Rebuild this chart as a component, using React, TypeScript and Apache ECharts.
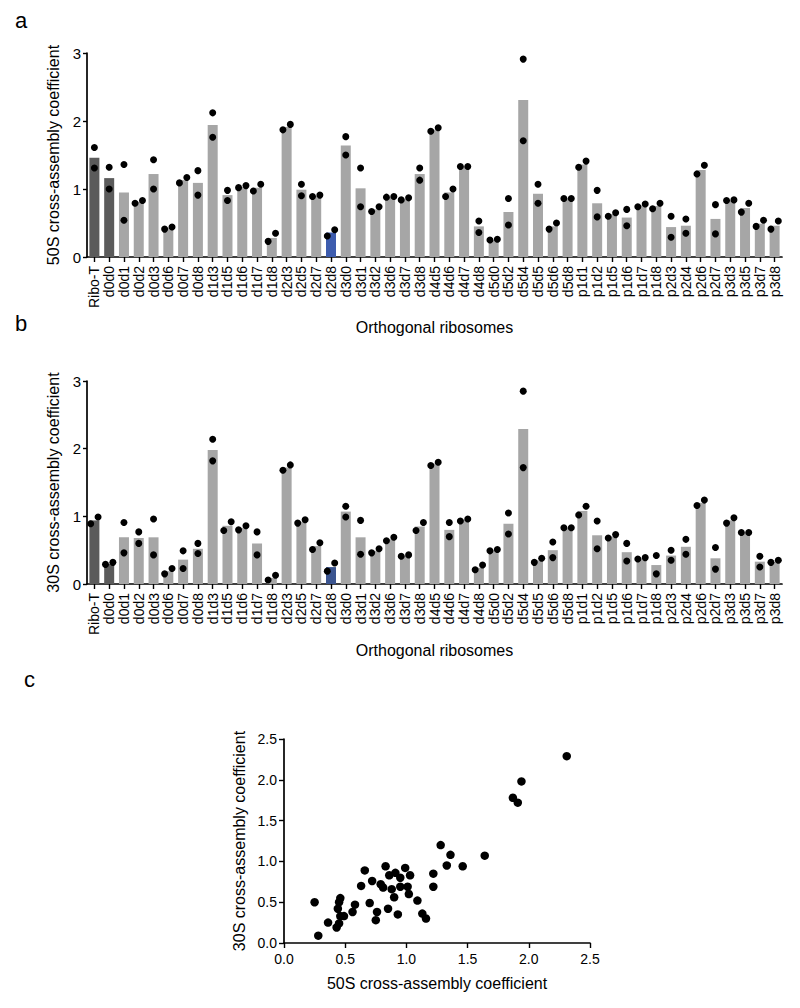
import React, { useEffect, useRef } from "react";
import * as echarts from "echarts";

const categories = [
  "Ribo-T", "d0d0", "d0d1", "d0d2", "d0d3", "d0d6", "d0d7", "d0d8", "d1d3", "d1d5", "d1d6", "d1d7", "d1d8", "d2d3",
  "d2d5", "d2d7", "d2d8", "d3d0", "d3d1", "d3d2", "d3d6", "d3d7", "d3d8", "d4d5", "d4d6", "d4d7", "d4d8", "d5d0", "d5d2", "d5d4", "d5d5",
  "d5d6", "d5d8", "p1d1", "p1d2", "p1d5", "p1d6", "p1d7", "p1d8", "p2d3", "p2d4", "p2d6", "p2d7", "p3d3", "p3d5", "p3d7", "p3d8",
];

// 50S cross-assembly coefficient (panel a)
const s50Rep1 = [
  1.61, 1.32, 1.36, 0.79, 1.43, 0.41, 1.09, 1.27, 2.12, 0.98, 1.02, 0.97, 0.23, 1.87,
  1.07, 0.89, 0.31, 1.77, 1.31, 0.67, 0.88, 0.84, 1.31, 1.85, 0.89, 1.33, 0.53, 0.25, 0.86, 2.91, 1.07,
  0.41, 0.86, 1.32, 0.98, 0.60, 0.70, 0.74, 0.71, 0.60, 0.56, 1.22, 0.77, 0.83, 0.66, 0.45, 0.41,
];
const s50Rep2 = [
  1.31, 1.00, 0.54, 0.83, 1.00, 0.44, 1.17, 0.91, 1.76, 0.83, 1.05, 1.07, 0.35, 1.95,
  0.90, 0.91, 0.40, 1.50, 0.74, 0.74, 0.89, 0.87, 1.13, 1.90, 1.00, 1.33, 0.36, 0.26, 0.47, 1.71, 0.79,
  0.50, 0.86, 1.41, 0.59, 0.65, 0.46, 0.78, 0.79, 0.29, 0.35, 1.35, 0.34, 0.84, 0.79, 0.54, 0.53,
];
const s50Mean = [
  1.46, 1.16, 0.95, 0.81, 1.22, 0.43, 1.13, 1.09, 1.94, 0.91, 1.03, 1.02, 0.28, 1.91,
  0.99, 0.90, 0.36, 1.64, 1.01, 0.70, 0.88, 0.85, 1.22, 1.87, 0.95, 1.33, 0.45, 0.25, 0.66, 2.31, 0.93,
  0.45, 0.86, 1.36, 0.79, 0.63, 0.58, 0.76, 0.75, 0.44, 0.46, 1.28, 0.56, 0.83, 0.72, 0.49, 0.46,
];

// 30S cross-assembly coefficient (panel b)
const s30Rep1 = [
  0.89, 0.29, 0.91, 0.77, 0.96, 0.15, 0.49, 0.60, 2.14, 0.92, 0.80, 0.77, 0.06, 1.68,
  0.90, 0.51, 0.19, 1.15, 0.94, 0.46, 0.64, 0.41, 0.79, 1.75, 0.91, 0.93, 0.21, 0.49, 1.05, 2.85, 0.32,
  0.62, 0.83, 1.02, 0.93, 0.68, 0.60, 0.37, 0.42, 0.50, 0.66, 1.16, 0.54, 0.90, 0.76, 0.41, 0.32,
];
const s30Rep2 = [
  0.99, 0.32, 0.46, 0.60, 0.43, 0.23, 0.23, 0.45, 1.82, 0.79, 0.86, 0.43, 0.13, 1.76,
  0.95, 0.61, 0.31, 0.99, 0.44, 0.52, 0.69, 0.43, 0.91, 1.80, 0.70, 0.96, 0.28, 0.51, 0.74, 1.72, 0.38,
  0.39, 0.83, 1.15, 0.52, 0.73, 0.34, 0.39, 0.15, 0.35, 0.44, 1.24, 0.22, 0.98, 0.76, 0.25, 0.35,
];
const s30Mean = [
  0.94, 0.30, 0.69, 0.68, 0.69, 0.19, 0.36, 0.52, 1.98, 0.86, 0.83, 0.60, 0.09, 1.72,
  0.92, 0.56, 0.25, 1.07, 0.69, 0.49, 0.66, 0.42, 0.85, 1.78, 0.80, 0.95, 0.24, 0.50, 0.89, 2.29, 0.35,
  0.50, 0.83, 1.08, 0.72, 0.70, 0.47, 0.38, 0.28, 0.42, 0.55, 1.20, 0.38, 0.94, 0.76, 0.33, 0.33,
];

const barTicks = [0, 1, 2, 3];
const scatterTicks = [0, 0.5, 1.0, 1.5, 2.0, 2.5];

const FONT = "Arial, 'Liberation Sans', Helvetica, sans-serif";
const GRAY = "#a6a6a6";
const DARK = "#5b5b5b";
const BLUE_A = "#3d5cae";
const BLUE_B = "#3b5590";

function barColor(i: number, blue: string) {
  const c = categories[i];
  if (c === "Ribo-T" || c === "d0d0") return DARK;
  if (c === "d2d8") return blue;
  return GRAY;
}

function dotData(r1: number[], r2: number[]) {
  const out: any[] = [];
  r1.forEach((a, i) => {
    const b = r2[i];
    const close = Math.abs(a - b) < 0.14;
    const da = close ? (a <= b ? -3.7 : 3.7) : 0;
    out.push({ value: [i, a], symbolOffset: [da, 0] });
    out.push({ value: [i, b], symbolOffset: [-da, 0] });
  });
  return out;
}

const axisLineStyle = { color: "#000", width: 1.7 };

function catXAxis(gridIndex: number, nameGap: number) {
  return {
    gridIndex,
    type: "category",
    data: categories,
    boundaryGap: true,
    axisLine: { show: true, lineStyle: axisLineStyle },
    axisTick: { show: true, alignWithLabel: true, length: 5, lineStyle: { color: "#000", width: 1.4 } },
    axisLabel: { rotate: 90, interval: 0, fontSize: 14, color: "#000", margin: 9, fontFamily: FONT },
    name: "Orthogonal ribosomes",
    nameLocation: "middle",
    nameGap,
    nameTextStyle: { fontSize: 16, color: "#000", fontFamily: FONT },
    splitLine: { show: false },
  };
}

function barYAxis(gridIndex: number, name: string) {
  return {
    gridIndex,
    type: "value",
    min: barTicks[0],
    max: barTicks[barTicks.length - 1],
    interval: 1,
    axisLine: { show: true, lineStyle: axisLineStyle },
    axisTick: { show: true, length: 4, lineStyle: { color: "#000", width: 1.4 } },
    axisLabel: { fontSize: 15, color: "#000", margin: 6, fontFamily: FONT },
    splitLine: { show: false },
    name,
    nameLocation: "middle",
    nameGap: 25,
    nameTextStyle: { fontSize: 16, color: "#000", fontFamily: FONT },
  };
}

export default function App() {
  const ref = useRef<HTMLDivElement>(null);
  useEffect(() => {
    if (!ref.current) return;
    const chart = echarts.init(ref.current, null, { renderer: "svg" });
    const option: any = {
      animation: false,
      backgroundColor: "#fff",
      textStyle: { fontFamily: FONT },
      graphic: [
        { type: "text", left: 15, top: 9, style: { text: "a", fontSize: 22, fill: "#000", fontFamily: FONT } },
        { type: "text", left: 15, top: 312, style: { text: "b", fontSize: 22, fill: "#000", fontFamily: FONT } },
        { type: "text", left: 24, top: 668, style: { text: "c", fontSize: 22, fill: "#000", fontFamily: FONT } },
      ],
      grid: [
        { left: 87, top: 53, width: 695, height: 204 },
        { left: 87, top: 381, width: 695, height: 203 },
        { left: 284, top: 739, width: 306, height: 204 },
      ],
      xAxis: [
        catXAxis(0, 62),
        catXAxis(1, 58),
        {
          gridIndex: 2,
          type: "value",
          min: scatterTicks[0],
          max: scatterTicks[scatterTicks.length - 1],
          interval: 0.5,
          axisLine: { show: true, lineStyle: axisLineStyle },
          axisTick: { show: true, length: 5, lineStyle: { color: "#000", width: 1.4 } },
          axisLabel: { fontSize: 14, color: "#000", margin: 9, fontFamily: FONT, formatter: (v: number) => v.toFixed(1) },
          splitLine: { show: false },
          name: "50S cross-assembly coefficient",
          nameLocation: "middle",
          nameGap: 32,
          nameTextStyle: { fontSize: 16, color: "#000", fontFamily: FONT },
        },
      ],
      yAxis: [
        barYAxis(0, "50S cross-assembly coefficient"),
        barYAxis(1, "30S cross-assembly coefficient"),
        {
          gridIndex: 2,
          type: "value",
          min: scatterTicks[0],
          max: scatterTicks[scatterTicks.length - 1],
          interval: 0.5,
          axisLine: { show: true, lineStyle: axisLineStyle },
          axisTick: { show: true, length: 5, lineStyle: { color: "#000", width: 1.4 } },
          axisLabel: { fontSize: 14, color: "#000", margin: 7, fontFamily: FONT, formatter: (v: number) => v.toFixed(1) },
          splitLine: { show: false },
          name: "30S cross-assembly coefficient",
          nameLocation: "middle",
          nameGap: 37,
          nameTextStyle: { fontSize: 16, color: "#000", fontFamily: FONT },
        },
      ],
      series: [
        {
          type: "bar",
          xAxisIndex: 0,
          yAxisIndex: 0,
          barWidth: 10,
          data: s50Mean.map((v, i) => ({ value: v, itemStyle: { color: barColor(i, BLUE_A) } })),
          z: 2,
        },
        {
          type: "scatter",
          xAxisIndex: 0,
          yAxisIndex: 0,
          symbolSize: 7,
          itemStyle: { color: "#000", opacity: 1 },
          data: dotData(s50Rep1, s50Rep2),
          z: 3,
        },
        {
          type: "bar",
          xAxisIndex: 1,
          yAxisIndex: 1,
          barWidth: 10,
          data: s30Mean.map((v, i) => ({ value: v, itemStyle: { color: barColor(i, BLUE_B) } })),
          z: 2,
        },
        {
          type: "scatter",
          xAxisIndex: 1,
          yAxisIndex: 1,
          symbolSize: 7,
          itemStyle: { color: "#000", opacity: 1 },
          data: dotData(s30Rep1, s30Rep2),
          z: 3,
        },
        {
          type: "scatter",
          xAxisIndex: 2,
          yAxisIndex: 2,
          symbolSize: 8.5,
          itemStyle: { color: "#000", opacity: 1 },
          data: s50Mean.map((x, i) => [x, s30Mean[i]]),
          z: 3,
        },
      ],
    };
    chart.setOption(option);
    return () => chart.dispose();
  }, []);
  return (
    <div
      ref={ref}
      style={{ position: "absolute", left: 0, top: 0, width: 800, height: 1008, background: "#fff" }}
    />
  );
}
